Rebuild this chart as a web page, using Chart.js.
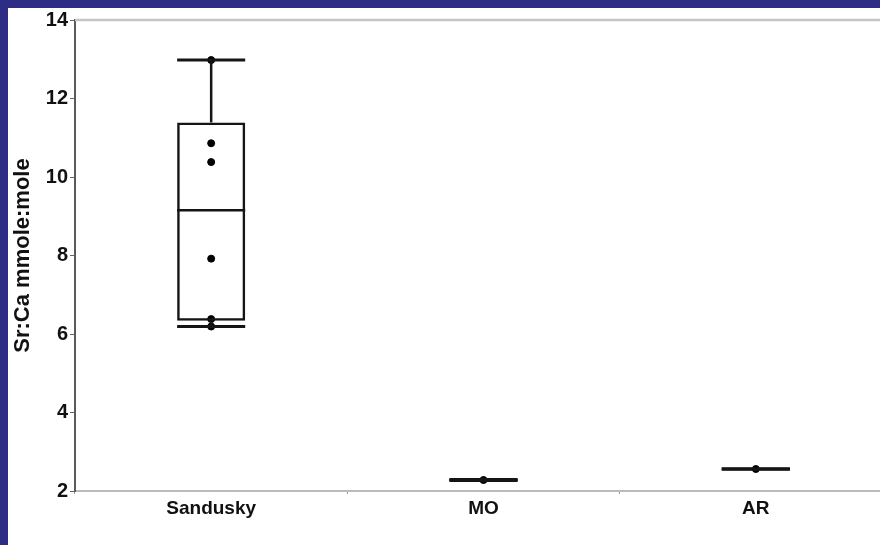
<!DOCTYPE html>
<html>
<head>
<meta charset="utf-8">
<script src="https://cdn.jsdelivr.net/npm/chart.js@4/dist/chart.umd.min.js"></script>
<style>
    html, body {
        margin: 0;
        padding: 0;
        width: 880px;
        height: 545px;
        overflow: hidden;
        background: #2d2d86;
    }
    #wrap {
        position: absolute;
        left: 8px;
        top: 8px;
        width: 884px;
        height: 537px;
        background: #ffffff;
    }
</style>
</head>
<body>
<div id="wrap"><canvas id="boxChart" width="884" height="537"></canvas></div>
<script>
// Chart data
const categories = ['Sandusky', 'MO', 'AR'];
const whiskerLow = [6.19, 2.27, 2.56];
const boxLow = [6.34, 2.27, 2.56];
const medians = [9.15, 2.28, 2.56];
const boxHigh = [11.39, 2.29, 2.56];
const whiskerHigh = [12.98, 2.29, 2.56];
const sanduskyPoints = [12.98, 10.86, 10.38, 7.92, 6.38, 6.19];
const moPoints = [2.28];
const arPoints = [2.56];
const yTicks = [2, 4, 6, 8, 10, 12, 14];

const lineColor = '#151515';
const fontFamily = "'Liberation Sans', Arial, sans-serif";

// Whiskers, caps and median lines, drawn through the chart's scales
const boxLines = {
    id: 'boxLines',
    afterDatasetDraw(chart, args) {
        if (args.index !== 0) return;
        const ctx = chart.ctx;
        const xs = chart.scales.x;
        const ys = chart.scales.y;
        const bars = args.meta.data;

        const line = (x1, y1, x2, y2, w) => {
            ctx.beginPath();
            ctx.lineWidth = w;
            ctx.moveTo(x1, y1);
            ctx.lineTo(x2, y2);
            ctx.stroke();
        };

        ctx.save();
        ctx.strokeStyle = lineColor;
        categories.forEach((c, i) => {
            const cx = xs.getPixelForValue(i);
            const half = bars[i].width / 2;
            const yWl = ys.getPixelForValue(whiskerLow[i]);
            const yWh = ys.getPixelForValue(whiskerHigh[i]);
            const yBl = ys.getPixelForValue(boxLow[i]);
            const yBh = ys.getPixelForValue(boxHigh[i]);
            const yMed = ys.getPixelForValue(medians[i]);

            line(cx, yWh, cx, yBh, 2.5);
            line(cx, yBl, cx, yWl, 2.5);
            line(cx - half, yWh, cx + half, yWh, 3);
            line(cx - half, yWl, cx + half, yWl, 3);
            line(cx - half, yMed, cx + half, yMed, 2.5);
        });
        ctx.restore();
    }
};

// Light gray frame line on top of the plot area
const topBorder = {
    id: 'topBorder',
    afterDraw(chart) {
        const { ctx, chartArea } = chart;
        ctx.save();
        ctx.strokeStyle = '#c4c4c4';
        ctx.lineWidth = 2.5;
        ctx.beginPath();
        ctx.moveTo(chartArea.left, chartArea.top);
        ctx.lineTo(chartArea.right, chartArea.top);
        ctx.stroke();
        ctx.restore();
    }
};

const toPoints = (label, values) => values.map(v => ({ x: label, y: v }));

new Chart(document.getElementById('boxChart'), {
    type: 'bar',
    data: {
        labels: categories,
        datasets: [
            {
                type: 'bar',
                label: 'Box',
                data: categories.map((c, i) => [boxLow[i], boxHigh[i]]),
                backgroundColor: 'rgba(0,0,0,0)',
                borderColor: lineColor,
                borderWidth: 2.5,
                borderSkipped: false,
                categoryPercentage: 1,
                barPercentage: 0.25
            },
            {
                type: 'scatter',
                label: 'Samples',
                data: [
                    ...toPoints('Sandusky', sanduskyPoints),
                    ...toPoints('MO', moPoints),
                    ...toPoints('AR', arPoints)
                ],
                backgroundColor: '#000000',
                borderColor: '#000000',
                pointRadius: 3.5,
                pointHoverRadius: 3.5
            }
        ]
    },
    options: {
        responsive: false,
        animation: false,
        layout: {
            autoPadding: false,
            padding: { top: 8, left: 0, right: 0, bottom: 0 }
        },
        plugins: {
            legend: { display: false },
            tooltip: { enabled: false }
        },
        scales: {
            x: {
                type: 'category',
                offset: true,
                grid: {
                    offset: true,
                    drawOnChartArea: false,
                    tickLength: 3,
                    color: '#999999'
                },
                border: { color: '#bbbbbb', width: 2 },
                ticks: {
                    color: '#111111',
                    padding: 3,
                    font: { family: fontFamily, size: 19, weight: 'bold' }
                },
                afterFit(scale) {
                    scale.height = 54;
                }
            },
            y: {
                min: 2,
                max: 14,
                afterBuildTicks(scale) {
                    scale.ticks = yTicks.map(v => ({ value: v }));
                },
                grid: {
                    drawOnChartArea: false,
                    tickLength: 5,
                    color: '#666666'
                },
                border: { color: '#5a5a5a', width: 2 },
                ticks: {
                    color: '#111111',
                    padding: 2,
                    font: { family: fontFamily, size: 20, weight: 'bold', lineHeight: 1 }
                },
                title: {
                    display: true,
                    text: 'Sr:Ca mmole:mole',
                    color: '#111111',
                    padding: { top: 2, bottom: 0 },
                    font: { family: fontFamily, size: 22, weight: 'bold' }
                },
                afterFit(scale) {
                    scale.width = 67;
                }
            }
        }
    },
    plugins: [boxLines, topBorder]
});
</script>
</body>
</html>
